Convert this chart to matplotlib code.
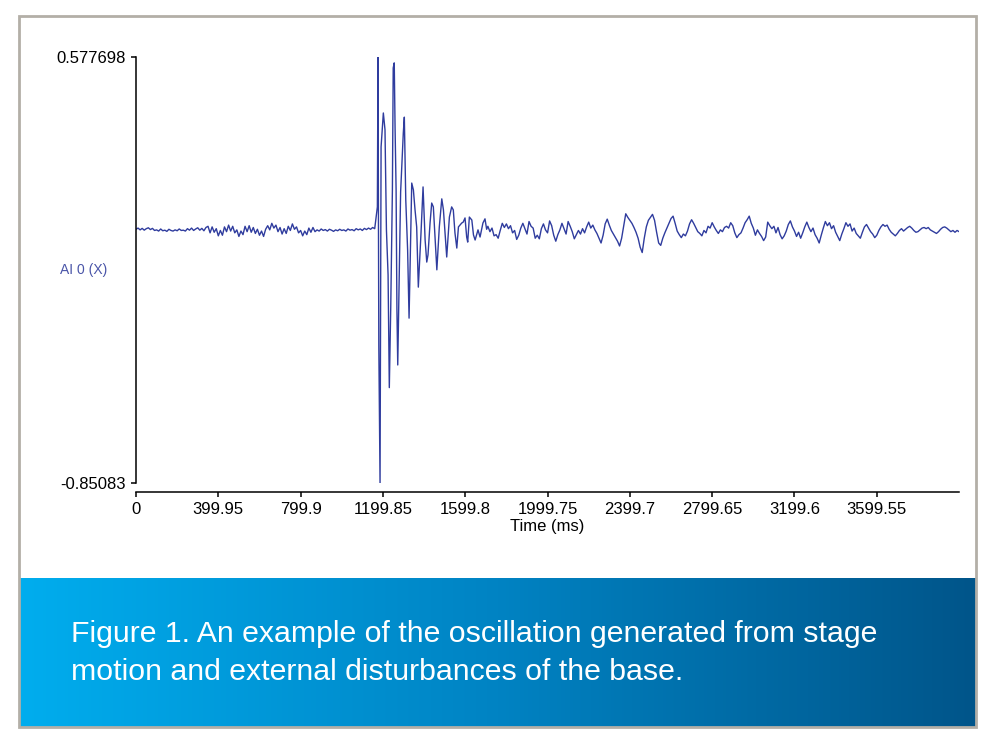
import numpy as np
import matplotlib
matplotlib.use("Agg")
import matplotlib.pyplot as plt
from matplotlib.patches import Rectangle
from matplotlib.colors import LinearSegmentedColormap

plt.rcParams['font.family'] = ['Liberation Sans', 'DejaVu Sans']

# --- data (time in ms, signal in V) ---
# quiet part before the hit, one sample every 10 ms from 0 ms
pre_step = 10
pre_values = [
    0.000, 0.004, -0.002, 0.003, -0.003, 0.002, 0.005, -0.001, 0.003, -0.004,
    -0.002, -0.006, 0.001, -0.005, -0.003, -0.007, 0.000, -0.004, -0.006, -0.002,
    -0.005, 0.001, -0.004, -0.003, -0.006, 0.002, -0.003, 0.004, -0.004, 0.001,
    0.005, -0.003, 0.003, -0.005, 0.006,
    0.010, -0.012, 0.008, -0.010, 0.002, -0.022, -0.004, -0.020, 0.008, -0.008,
    0.014, -0.006, 0.010, -0.012, -0.002, -0.024, -0.006, -0.018, 0.010, -0.008,
    0.012, -0.010, 0.006, -0.014, 0.000, -0.020, -0.006, -0.024, 0.000, 0.012,
    -0.002, 0.020, 0.004, 0.014, -0.008, 0.006, -0.016, 0.002, -0.014, 0.010,
    -0.004, 0.018, 0.000, 0.008, -0.012, -0.004, -0.022, -0.006, -0.018, 0.004,
    -0.010, 0.006, -0.008,
    -0.002, -0.006, 0.001, -0.004, -0.001, -0.006, 0.000, -0.003, -0.007, -0.002,
    -0.005, 0.000, -0.004, -0.002, -0.006, 0.001, -0.003, -0.001, -0.005, 0.002,
    -0.002, 0.001, -0.004, 0.003, -0.001, 0.004, 0.000, 0.006, 0.002,
]

# the impact and its decaying ringing, peaks and troughs
burst_t = [1173, 1176, 1180, 1186, 1191, 1202, 1210, 1217, 1225, 1231,
           1238, 1246, 1250, 1255, 1259, 1264, 1268, 1272, 1278, 1286,
           1299, 1304, 1311, 1320, 1327, 1332, 1340, 1348, 1356, 1364,
           1372, 1385, 1395, 1405, 1413, 1419, 1429, 1437, 1445, 1453,
           1462, 1474, 1486, 1494, 1502, 1510, 1523, 1534, 1542, 1550,
           1559, 1567, 1583, 1590, 1599, 1607, 1612, 1620, 1632, 1640,
           1648, 1662, 1672, 1686, 1696, 1704]
burst_v = [0.075, 0.577698, -0.389, -0.85083, 0.276, 0.390, 0.334, -0.002, -0.153, -0.531,
           -0.260, 0.132, 0.541, 0.558, 0.340, 0.132, -0.270, -0.455, -0.204, 0.125,
           0.323, 0.376, 0.098, -0.070, -0.298, -0.127, 0.155, 0.132, 0.065, 0.008,
           -0.194, -0.013, 0.142, -0.036, -0.110, -0.086, 0.021, 0.088, 0.075, -0.026,
           -0.136, 0.008, 0.102, 0.065, -0.012, -0.093, 0.041, 0.075, 0.065, -0.012,
           -0.063, 0.008, 0.021, 0.024, 0.038, -0.026, -0.043, 0.041, 0.031, -0.019,
           -0.036, -0.002, -0.026, 0.021, 0.035, 0.000]

# residual vibration after the hit, one sample every 10 ms from 1710 ms
post_start = 1710
post_step = 10
post_values = [
    0.010, -0.008, 0.004, -0.022, -0.018, -0.030, -0.004, 0.020, 0.006, 0.018,
    0.002, 0.012, -0.012, -0.004, -0.034, -0.020, 0.004, 0.020, 0.002, -0.016,
    0.026, 0.010, 0.004, -0.030, -0.020, -0.032, 0.002, 0.018, -0.002, -0.012,
    0.028, 0.012, -0.020, -0.040, -0.018, -0.002, 0.020, 0.002, -0.016, 0.026,
    0.010, -0.008, -0.032, -0.018, -0.004, -0.016, 0.002, -0.012, 0.008, 0.024,
    0.004, 0.014, -0.002, -0.014, -0.030, -0.046, -0.020, 0.018, 0.034, 0.014,
    -0.004, -0.016, -0.028, -0.040, -0.056, -0.030, 0.010, 0.052, 0.040, 0.030,
    0.020, 0.006, -0.010, -0.030, -0.060, -0.078, -0.030, 0.008, 0.030, 0.040,
    0.050, 0.030, -0.010, -0.046, -0.054, -0.030, -0.012, 0.004, 0.020, 0.036,
    0.044, 0.020, -0.006, -0.018, -0.028, -0.016, -0.022, -0.006, 0.018, 0.032,
    0.020, 0.006, -0.008, -0.014, -0.022, -0.004, -0.012, 0.010, 0.004, 0.022,
    0.008, -0.004, -0.014, -0.002, -0.008, 0.006, 0.010, 0.004, 0.022, 0.012,
    -0.012, -0.028, -0.018, -0.012, 0.004, 0.022, 0.032, 0.044, 0.020, 0.004,
    -0.020, -0.002, -0.014, -0.024, -0.038, -0.026, 0.024, 0.012, 0.002, 0.010,
    -0.012, 0.006, -0.018, -0.032, -0.022, -0.006, 0.016, 0.028, 0.008, -0.006,
    -0.024, -0.010, -0.030, -0.012, 0.008, 0.024, 0.006, -0.008, 0.004, -0.018,
    -0.030, -0.046, -0.020, 0.004, 0.026, 0.012, 0.022, 0.002, 0.012, -0.010,
    -0.024, -0.038, -0.016, 0.002, 0.022, 0.010, 0.018, -0.006, 0.004, -0.014,
    -0.022, -0.030, -0.010, 0.008, 0.016, 0.004, -0.008, -0.016, -0.028, -0.020,
    -0.004, 0.008, 0.016, 0.010, 0.014, 0.000, -0.010, -0.016, -0.022, -0.014,
    -0.004, 0.002, -0.006, 0.000, 0.006, 0.010, 0.004, -0.004, -0.010, -0.008,
    -0.002, 0.004, 0.006, 0.002, 0.006, -0.002, -0.006, -0.010, -0.014, -0.008,
    0.000, 0.006, 0.008, 0.004, -0.002, -0.008, -0.004, -0.010, -0.004, -0.008,
]

y_min, y_max = -0.85083, 0.577698
x_ticks = [0, 399.95, 799.9, 1199.85, 1599.8, 1999.75, 2399.7, 2799.65, 3199.6, 3599.55]
x_ticklabels = ['0', '399.95', '799.9', '1199.85', '1599.8', '1999.75',
                '2399.7', '2799.65', '3199.6', '3599.55']
y_label = 'AI 0 (X)'
x_label = 'Time (ms)'
caption = ['Figure 1. An example of the oscillation generated from stage',
           'motion and external disturbances of the base.']

pre_t = np.arange(len(pre_values)) * pre_step
post_t = post_start + np.arange(len(post_values)) * post_step
t = np.concatenate([pre_t, burst_t, post_t])
v = np.concatenate([pre_values, burst_v, post_values])

# --- figure ---
W, H = 1000, 745
fig = plt.figure(figsize=(W / 100, H / 100), dpi=100)
fig.patch.set_facecolor('white')

ax = fig.add_axes([136 / W, 1 - 483 / H, (959 - 136) / W, (483 - 57) / H])
ax.plot(t, v, color='#2f3c9e', lw=1.0)
ax.set_xlim(0, 3999.5)
ax.set_ylim(y_min, y_max)

ax.spines['top'].set_visible(False)
ax.spines['right'].set_visible(False)
ax.spines['bottom'].set_position(('outward', 6.5))
for s in ('left', 'bottom'):
    ax.spines[s].set_linewidth(1.1)

ax.set_xticks(x_ticks, x_ticklabels)
ax.set_yticks([y_max, y_min], ['0.577698', '-0.85083'])
ax.tick_params(direction='out', length=3.5, width=1.1, labelsize=12, pad=4)
ax.set_xlabel(x_label, fontsize=12, labelpad=1)

fig.text(60 / W, 1 - 270 / H, y_label, color='#4a55a8', fontsize=10,
         ha='left', va='center')

# blue caption banner
cmap = LinearSegmentedColormap.from_list('banner', ['#00adee', '#0083c3', '#00558a'])
bax = fig.add_axes([20 / W, 1 - 727 / H, (976 - 20) / W, (727 - 578) / H])
bax.imshow(np.linspace(0, 1, 512)[None, :], aspect='auto', cmap=cmap,
           extent=[0, 1, 0, 1])
bax.axis('off')

fig.text(71 / W, 1 - 634 / H, caption[0], color='white', fontsize=21.8, va='center')
fig.text(71 / W, 1 - 672 / H, caption[1], color='white', fontsize=21.8, va='center')

# grey card border
fig.patches.append(Rectangle((19 / W, 1 - 727 / H), (976 - 19) / W, (727 - 16) / H,
                             transform=fig.transFigure, fill=False,
                             edgecolor='#b3afa7', lw=2))

fig.savefig('out.png', dpi=100)
